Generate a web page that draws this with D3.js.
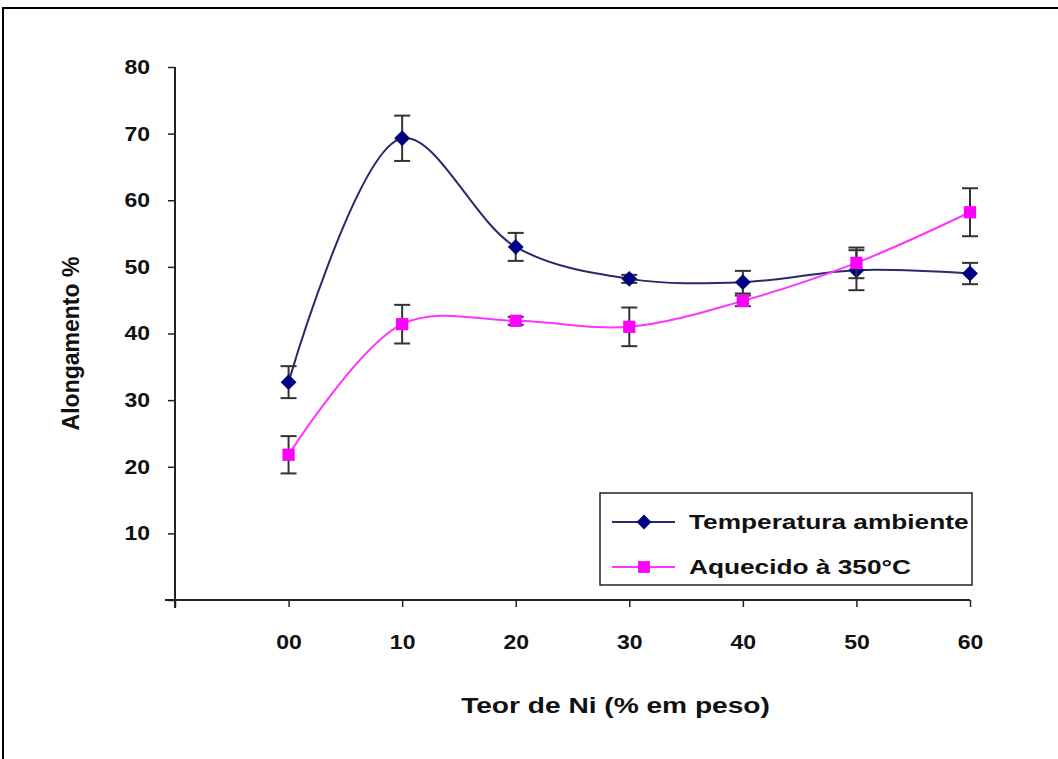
<!DOCTYPE html>
<html>
<head>
<meta charset="utf-8">
<script src="https://cdn.jsdelivr.net/npm/d3@7"></script>
<style>
  body { margin: 0; background: #fff; }
  text { font-family: "Liberation Sans", Arial, sans-serif; font-weight: bold; fill: #111; }
</style>
</head>
<body>
<div id="chart"></div>
<script>
// categories (Ni content)
const niLabels = ["00", "10", "20", "30", "40", "50", "60"];

// Temperatura ambiente
const tempAmb = [32.7, 69.3, 53.0, 48.2, 47.7, 49.5, 49.0];
const tempAmbErr = [2.4, 3.4, 2.1, 0.6, 1.7, 3.0, 1.6];

// Aquecido a 350°C
const aquecido = [21.8, 41.4, 41.9, 41.0, 44.9, 50.6, 58.2];
const aquecidoErr = [2.8, 2.9, 0.6, 2.9, 0.8, 2.3, 3.6];

const yTicks = [0, 10, 20, 30, 40, 50, 60, 70, 80];

const W = 1058, H = 759;
const margin = { top: 67, right: 88, bottom: 159, left: 175 };
const width = W - margin.left - margin.right;
const height = H - margin.top - margin.bottom;

// the original picture is a bit wider than tall, so text is stretched sideways
function stretch(sel, s) {
    sel.each(function () {
        const t = d3.select(this);
        const x0 = +(t.attr("x") || 0);
        t.attr("transform", `translate(${x0 * (1 - s)},0) scale(${s},1)`);
    });
}

const svg = d3.select("#chart").append("svg")
    .attr("width", W)
    .attr("height", H);

// outer frame
svg.append("rect")
    .attr("x", 3).attr("y", 8)
    .attr("width", W + 20).attr("height", H + 20)
    .attr("fill", "none")
    .attr("stroke", "#000")
    .attr("stroke-width", 2);

const g = svg.append("g")
    .attr("transform", `translate(${margin.left},${margin.top})`);

// x is positional, one empty slot before "00"
const x = d3.scaleLinear().domain([-1, 6]).range([0, width]);
const y = d3.scaleLinear().domain([0, 80]).range([height, 0]);

// X axis
const xAxis = g.append("g")
    .attr("transform", `translate(0,${height})`)
    .call(d3.axisBottom(x)
        .tickValues(d3.range(-1, 7))
        .tickSize(7)
        .tickPadding(28)
        .tickFormat(d => d < 0 ? "" : niLabels[d]));
xAxis.select(".domain").attr("stroke", "#222").attr("stroke-width", 2).attr("d", `M-10,0H${width}`);
xAxis.selectAll(".tick line").attr("stroke", "#222").attr("stroke-width", 1.5);
xAxis.selectAll("text").style("font-size", "20px").attr("fill", "#111").call(stretch, 1.15);

// Y axis
const yAxis = g.append("g")
    .call(d3.axisLeft(y)
        .tickValues(yTicks)
        .tickSize(7)
        .tickPadding(18)
        .tickFormat(d => d === 0 ? "" : d));
yAxis.select(".domain").attr("stroke", "#222").attr("stroke-width", 2).attr("d", `M0,0V${height + 8}`);
yAxis.selectAll(".tick line").attr("stroke", "#222").attr("stroke-width", 1.5);
yAxis.selectAll("text").style("font-size", "20px").attr("fill", "#111").call(stretch, 1.15);

// axis titles
g.append("text")
    .attr("transform", "rotate(-90)")
    .attr("x", -(y(40) + 10))
    .attr("y", -96)
    .attr("text-anchor", "middle")
    .style("font-size", "23px")
    .text("Alongamento %");

g.append("text")
    .attr("x", (x(-1) + x(6)) / 2 + 43)
    .attr("y", height + 113)
    .attr("text-anchor", "middle")
    .style("font-size", "22.5px")
    .text("Teor de Ni (% em peso)")
    .call(stretch, 1.25);

const series = [
    { name: "Temperatura ambiente", values: tempAmb, err: tempAmbErr, color: "#000080", lineColor: "#2a2a6a", shape: d3.symbolDiamond2 },
    { name: "Aquecido à 350°C", values: aquecido, err: aquecidoErr, color: "#ff00ff", lineColor: "#ff33ff", shape: d3.symbolSquare }
];

const line = d3.line()
    .x((d, i) => x(i))
    .y(d => y(d))
    .curve(d3.curveCatmullRom.alpha(0.5));

series.forEach(s => {
    g.append("path")
        .datum(s.values)
        .attr("fill", "none")
        .attr("stroke", s.lineColor)
        .attr("stroke-width", 2)
        .attr("d", line);

    // error bars
    const eb = g.append("g").selectAll("g")
        .data(s.values.map((v, i) => ({ i, v, e: s.err[i] })))
        .enter().append("g");
    eb.append("line")
        .attr("x1", d => x(d.i)).attr("x2", d => x(d.i))
        .attr("y1", d => y(d.v + d.e)).attr("y2", d => y(d.v - d.e))
        .attr("stroke", "#333").attr("stroke-width", 2);
    eb.append("line")
        .attr("x1", d => x(d.i) - 8).attr("x2", d => x(d.i) + 8)
        .attr("y1", d => y(d.v + d.e)).attr("y2", d => y(d.v + d.e))
        .attr("stroke", "#333").attr("stroke-width", 2);
    eb.append("line")
        .attr("x1", d => x(d.i) - 8).attr("x2", d => x(d.i) + 8)
        .attr("y1", d => y(d.v - d.e)).attr("y2", d => y(d.v - d.e))
        .attr("stroke", "#333").attr("stroke-width", 2);

    g.append("g").selectAll("path")
        .data(s.values)
        .enter().append("path")
        .attr("transform", (d, i) => `translate(${x(i)},${y(d)})`)
        .attr("d", d3.symbol().type(s.shape).size(s.shape === d3.symbolSquare ? 150 : 160))
        .attr("fill", s.color);
});

// legend
const leg = svg.append("g").attr("transform", "translate(600,493)");
leg.append("rect")
    .attr("width", 372).attr("height", 92)
    .attr("fill", "#fff")
    .attr("stroke", "#222")
    .attr("stroke-width", 1.5);

series.forEach((s, i) => {
    const ly = 29 + i * 45;
    leg.append("line")
        .attr("x1", 12).attr("x2", 75)
        .attr("y1", ly).attr("y2", ly)
        .attr("stroke", s.lineColor).attr("stroke-width", 2);
    leg.append("path")
        .attr("transform", `translate(44,${ly})`)
        .attr("d", d3.symbol().type(s.shape).size(140))
        .attr("fill", s.color);
    leg.append("text")
        .attr("x", 89).attr("y", ly)
        .attr("dy", "0.35em")
        .style("font-size", "21px")
        .text(s.name)
        .call(stretch, 1.25);
});
</script>
</body>
</html>
